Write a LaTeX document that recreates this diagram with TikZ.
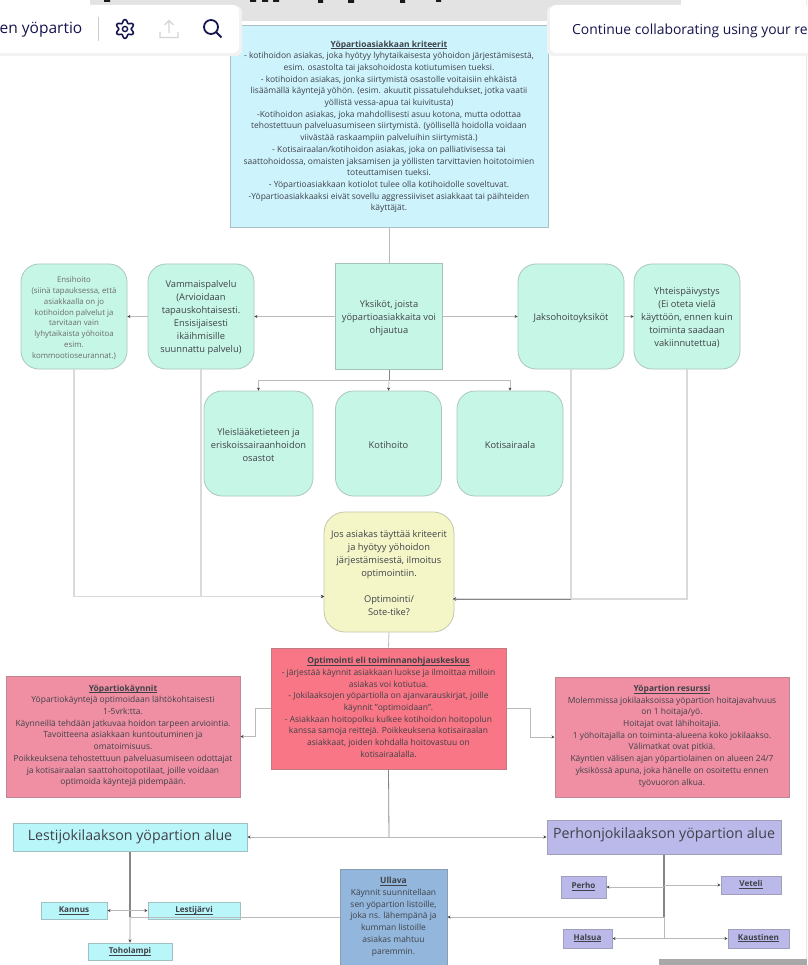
\documentclass[tikz,border=0pt]{standalone}
\usepackage{fontspec}
\setmainfont{Open Sans}
\usetikzlibrary{arrows.meta,calc}
\definecolor{txt}{HTML}{3F4248}
\definecolor{navy}{HTML}{15154F}
\definecolor{ln}{HTML}{BABABA}
\definecolor{lnd}{HTML}{868686}
\definecolor{lnl}{HTML}{DADADA}
\definecolor{crit}{HTML}{CDF3FD}
\definecolor{tealb}{HTML}{C6F6E6}
\definecolor{yell}{HTML}{F4F6C8}
\definecolor{redb}{HTML}{F87685}
\definecolor{pinkb}{HTML}{F08FA4}
\definecolor{cyanb}{HTML}{B9F6FA}
\definecolor{lav}{HTML}{BBB8EA}
\definecolor{blueb}{HTML}{93B6DC}
\newcommand{\hd}[1]{\underline{\smash{\textbf{#1}}}}
\newcommand{\plc}[2]{\raisebox{#1}{\vphantom{Ag}\hd{#2}}}
\newcommand{\tp}[1]{\rule{0pt}{#1}}
\tikzset{
  fsz/.style 2 args={font=\fontsize{#1}{#2}\selectfont},
  nbase/.style={inner sep=0pt,align=center,text=txt},
  rectbox/.style={nbase,draw=#1!55!gray,line width=1pt},
  card/.style={nbase,draw=#1!60!gray,fill=#1,line width=.8pt,rounded corners=18pt,minimum width=106pt,minimum height=105pt},
  con/.style={draw=ln,line width=.8pt},
  arr/.style={con,-{Stealth[length=3pt,width=3pt,color=txt]}},
  arrb/.style={con,{Stealth[length=3pt,width=3pt,color=txt]}-{Stealth[length=3pt,width=3pt,color=txt]}},
  smalltxt/.style={fsz={9.3}{13}},
  notetxt/.style={fsz={8.45}{11.7}},
  place/.style={rectbox=#1,fill=#1,fsz={8.1}{10}},
}
\begin{document}
\begin{tikzpicture}[x=1pt,y=-1pt]
\useasboundingbox (0,0) rectangle (807,965);
\fill[white] (0,0) rectangle (807,965);
% browser chrome behind the diagram
\fill[black!11] (90,0) rectangle (681,21);
\fill[black!90] (104,0) rectangle (110,2) (250,0) rectangle (256,2) (262,0) rectangle (268,2) (273,0) rectangle (279,2) (318,0) rectangle (323,3) (348,0) rectangle (354,3) (400,0) rectangle (405,3) (436,0) rectangle (441,2);
\fill[black!8] (806,0) rectangle (807,965);
\fill[black!34] (659,959) rectangle (807,965);

% top node
\node[rectbox=crit,fill=crit,minimum width=318pt,minimum height=202pt,notetxt] (crit) at (389,127) {\tp{6pt}\hd{Yöpartioasiakkaan kriteerit}\\
- kotihoidon asiakas, joka hyötyy lyhytaikaisesta yöhoidon järjestämisestä,\\
esim. osastolta tai jaksohoidosta kotiutumisen tueksi.\\
- kotihoidon asiakas, jonka siirtymistä osastolle voitaisiin ehkäistä\\
lisäämällä käyntejä yöhön. (esim. akuutit pissatulehdukset, jotka vaatii\\
yöllistä vessa-apua tai kuivitusta)\\
-Kotihoidon asiakas, joka mahdollisesti asuu kotona, mutta odottaa\\
tehostettuun palveluasumiseen siirtymistä. (yöllisellä hoidolla voidaan\\
viivästää raskaampiin palveluihin siirtymistä.)\\
- Kotisairaalan/kotihoidon asiakas, joka on palliativisessa tai\\
saattohoidossa, omaisten jaksamisen ja yöllisten tarvittavien hoitotoimien\\
toteuttamisen tueksi.\\
- Yöpartioasiakkaan kotiolot tulee olla kotihoidolle soveltuvat.\\
-Yöpartioasiakkaaksi eivät sovellu aggressiiviset asiakkaat tai päihteiden\\
käyttäjät.};

% toolbars
\fill[black!5,rounded corners=6pt] (-10,6) rectangle (242,56);
\fill[black!5,rounded corners=6pt] (547,6) rectangle (817,56);
\fill[white,rounded corners=6pt] (-10,5) rectangle (239,53);
\fill[white,rounded corners=6pt] (550,5) rectangle (817,53);
\node[anchor=east,inner sep=0pt,text=navy,fsz={15.5}{17}] (tl) at (82.5,30) {en yöpartio};
\node[anchor=west,inner sep=0pt,text=navy,fsz={13.9}{16}] (tr) at (572,30.5) {Continue collaborating using your re};
\draw[black!20,line width=.8pt] (98.5,17) -- (98.5,41);
\draw[navy,line width=1.6pt,line join=round] plot[domain=0:360,samples=73,smooth] ({125+(7.8+1.6*cos(6*\x))*sin(\x)},{29+(7.8+1.6*cos(6*\x))*cos(\x)});
\draw[navy,line width=1.4pt] (125,29) circle[radius=2.6pt];
\draw[black!17,line width=1.3pt] (160,32) -- (160,37.5) -- (178,37.5) -- (178,32) (169,33) -- (169,21) (164.5,25) -- (169,20.5) -- (173.5,25);
\draw[navy,line width=1.8pt] (211,27) circle[radius=7pt] (216,32) -- (221.5,37.5);

% units
\node[rectbox=tealb,fill=tealb,minimum width=106.5pt,minimum height=105pt,smalltxt] (yks) at (389,316.5) {\tp{9.5pt}Yksiköt, joista\\yöpartioasiakkaita voi\\ohjautua};
\node[card=tealb,smalltxt] (vam) at (201,316.5) {\tp{9.5pt}Vammaispalvelu\\(Arvioidaan\\tapauskohtaisesti.\\Ensisijaisesti\\ikäihmisille\\suunnattu palvelu)};
\node[card=tealb,fsz={7.85}{10.75},text=black!58] (ens) at (74,316.5) {\tp{9pt}Ensihoito\\(siinä tapauksessa, että\\asiakkaalla on jo\\kotihoidon palvelut ja\\tarvitaan vain\\lyhytaikaista yöhoitoa\\esim.\\kommootioseurannat.)};
\node[card=tealb,smalltxt] (jak) at (571,316.5) {\tp{9.5pt}Jaksohoitoyksiköt};
\node[card=tealb,smalltxt] (yht) at (687,316.5) {\tp{9.5pt}Yhteispäivystys\\(Ei oteta vielä\\käyttöön, ennen kuin\\toiminta saadaan\\vakiinnutettua)};
\node[card=tealb,smalltxt,minimum width=109pt] (yle) at (258.5,443.5) {\tp{9.5pt}Yleislääketieteen ja\\eriskoissairaanhoidon\\osastot};
\node[card=tealb,smalltxt] (kot) at (388.5,443.5) {\tp{9.5pt}Kotihoito};
\node[card=tealb,smalltxt] (kos) at (510,443.5) {\tp{9.5pt}Kotisairaala};
\node[card=yell,smalltxt,minimum width=130pt,minimum height=120pt,rounded corners=21pt] (yel) at (389,572) {\tp{9.5pt}Jos asiakas täyttää kriteerit\\ja hyötyy yöhoidon\\järjestämisestä, ilmoitus\\optimointiin.\\[13pt]Optimointi/\\Sote-tike?};

% bottom boxes
\node[rectbox=redb,fill=redb,minimum width=235pt,minimum height=121pt,notetxt] (opt) at (388.5,708.5) {\tp{4pt}\hd{Optimointi eli toiminnanohjauskeskus}\\
- järjestää käynnit asiakkaan luokse ja ilmoittaa milloin\\
asiakas voi kotiutua.\\
- Jokilaaksojen yöpartiolla on ajanvarauskirjat, joille\\
käynnit "optimoidaan".\\
- Asiakkaan hoitopolku kulkee kotihoidon hoitopolun\\
kanssa samoja reittejä. Poikkeuksena kotisairaalan\\
asiakkaat, joiden kohdalla hoitovastuu on\\
kotisairaalalla.};
\node[rectbox=pinkb,fill=pinkb,minimum width=234pt,minimum height=121pt,notetxt] (yk) at (123,736.5) {\tp{5pt}\hd{Yöpartiokäynnit}\\
Yöpartiokäyntejä optimoidaan lähtökohtaisesti\\
1-5vrk:tta.\\
Käynneillä tehdään jatkuvaa hoidon tarpeen arviointia.\\
Tavoitteena asiakkaan kuntoutuminen ja\\
omatoimisuus.\\
Poikkeuksena tehostettuun palveluasumiseen odottajat\\
ja kotisairaalan saattohoitopotilaat, joille voidaan\\
optimoida käyntejä pidempään.};
\node[rectbox=pinkb,fill=pinkb,minimum width=234pt,minimum height=120pt,notetxt] (res) at (672,737) {\tp{4.5pt}\hd{Yöpartion resurssi}\\
Molemmissa jokilaaksoissa yöpartion hoitajavahvuus\\
on 1 hoitaja/yö.\\
Hoitajat ovat lähihoitajia.\\
1 yöhoitajalla on toiminta-alueena koko jokilaakso.\\
Välimatkat ovat pitkiä.\\
Käyntien välisen ajan yöpartiolainen on alueen 24/7\\
yksikössä apuna, joka hänelle on osoitettu ennen\\
työvuoron alkua.};

\node[rectbox=cyanb,fill=cyanb,minimum width=234pt,minimum height=28pt,fsz={14.2}{16}] (les) at (130,837) {\raisebox{2pt}{Lestijokilaakson yöpartion alue}};
\node[rectbox=lav,fill=lav,minimum width=234pt,minimum height=34pt,fsz={14.2}{17}] (per) at (664,837) {\raisebox{7pt}{Perhonjokilaakson yöpartion alue}};
\node[rectbox=blueb,fill=blueb,minimum width=107pt,minimum height=96pt,notetxt] (ull) at (393.5,917) {\tp{6pt}\hd{Ullava}\\Käynnit suunnitellaan\\sen yöpartion listoille,\\joka ns. lähempänä ja\\kumman listoille\\asiakas mahtuu\\paremmin.};

\node[place=cyanb,minimum width=66pt,minimum height=17pt] (kan) at (74,910.5) {\plc{1.5pt}{Kannus}};
\node[place=cyanb,minimum width=92pt,minimum height=17pt] (lej) at (194,910.5) {\plc{1.5pt}{Lestijärvi}};
\node[place=cyanb,minimum width=84pt,minimum height=17pt] (toh) at (130,951.5) {\plc{1.5pt}{Toholampi}};
\node[place=lav,minimum width=45pt,minimum height=22pt] (prh) at (583.5,887) {\plc{3pt}{Perho}};
\node[place=lav,minimum width=60pt,minimum height=18pt] (vet) at (751,885) {\plc{2pt}{Veteli}};
\node[place=lav,minimum width=49pt,minimum height=19pt] (hal) at (587.5,938.5) {\plc{2.5pt}{Halsua}};
\node[place=lav,minimum width=61pt,minimum height=19pt] (kau) at (758.5,938.5) {\plc{2.5pt}{Kaustinen}};

% junction points
\coordinate (yj) at ($(yks.south)+(0,-11pt)$);
\coordinate (oj) at (389,837);
\coordinate (lu) at (130,917);
\coordinate (pu) at (664,917);
\coordinate (pp) at (664,887);
\coordinate (pv) at (664,885);
\coordinate (ph) at (664,938.5);
\coordinate (ej) at (324,596.5);
\coordinate (ej2) at (453,599);

% connectors
\draw[con] (crit.south) -- (yks.north);
\draw[arr] (yks.west) -- (vam.east);
\draw[arr] (vam.west) -- (ens.east);
\draw[arr] (yks.east) -- (jak.west);
\draw[arr] (jak.east) -- (yht.west);
\draw[con,draw=lnd] (yks.south) -- (yj);
\draw[arr] (yj) -- (kot.north);
\draw[arr] (yj) -| (yle.north);
\draw[arr] (yj) -| (kos.north);
\draw[arr,draw=lnl,line width=1.2pt] (ens.south) |- (ej);
\draw[arr,draw=lnl,line width=1.2pt] (vam.south) |- (ej);
\draw[arr,draw=lnl,line width=1.2pt] (yht.south) |- (ej2);
\draw[arr,draw=lnl,line width=1.2pt] (jak.south) |- (ej2);
\draw[con,draw=lnd,line width=.9pt] (571,599) -- (ej2);
\draw[con] (yel.south) -- (opt.north);
\draw[arr] (opt.west) -- ++(-15,0) |- (yk.east);
\draw[arr] (opt.east) -- ++(24,0) |- (res.west);
\draw[con,draw=lnd] (opt.south) -- (oj);
\draw[arr] (oj) -- (les.east);
\draw[arr] (oj) -- (per.west);
\draw[con,draw=lnd,line width=1.2pt] (les.south) -- (lu);
\draw[arr,draw=lnl,line width=1.2pt] (lu) -- (toh.north);
\draw[arrb] (kan.east) -- (lej.west);
\draw[con] (lu) -- (ull.west);
\draw[con,draw=lnd,line width=1.1pt] (per.south) -- (pu);
\draw[con] (pu) -- (ph);
\draw[arr] (pp) -- (prh.east);
\draw[arr] (pv) -- (vet.west);
\draw[arr] (pu) -- (ull.east);
\draw[arr] (ph) -- (hal.east);
\draw[arr] (ph) -- (kau.west);
\end{tikzpicture}
\end{document}
